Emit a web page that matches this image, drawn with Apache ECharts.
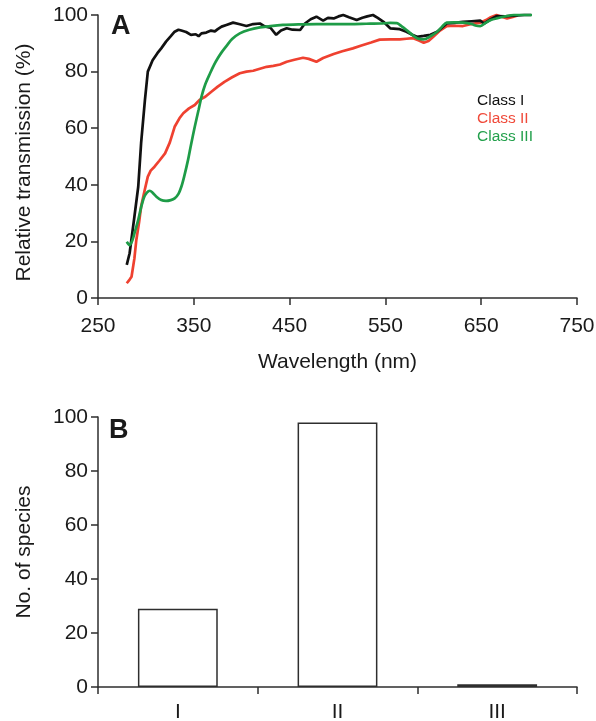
<!DOCTYPE html>
<html>
<head>
<meta charset="utf-8">
<script src="https://cdn.jsdelivr.net/npm/echarts@6/dist/echarts.min.js"></script>
<style>
html,body{margin:0;padding:0;background:#fff;}
#chart{width:596px;height:721px;}
</style>
</head>
<body>
<div id="chart"></div>
<script>
// ---------- Panel A data ----------
const classIWavelength = [280,283,288,292,295,299,302,307,312,316,321,326,330,334,337,342,347,352,355,358,363,368,372,375,379,384,391,397,405,412,419,424,430,436,441,447,453,461,466,472,478,485,490,496,501,506,512,520,526,531,537,542,548,555,565,572,578,583,590,597,604,609,614,622,631,640,649,653,660,666,675,685,695,702];
const classIValues = [11.7,15.8,28.7,39.3,54.7,70,80,84,86.5,88.2,90.6,92.5,94.1,94.8,94.5,94,93,93.2,92.5,93.5,93.8,94.5,94.2,95,95.9,96.5,97.3,96.8,96.1,96.8,97,96,95.5,93,94.5,95.3,94.8,94.7,97,98.5,99.4,98,99,98.8,99.5,100,99.2,98.2,99,99.5,100,99,97.6,95.3,95,94.1,93,92.3,92.6,93,94.1,95.5,97,97.2,97.6,97.8,98,97,98.5,99.6,99.5,99.8,100,100];

const classIIWavelength = [280,283,285,288,290,293,295,299,302,305,309,314,320,325,330,335,339,345,351,356,362,368,375,382,390,398,405,412,419,426,433,440,447,455,464,470,478,485,496,505,516,525,535,544,555,565,572,579,585,590,595,600,607,614,622,631,640,649,655,660,666,672,677,683,688];
const classIIValues = [5.2,6.5,7.5,14,20.5,27,32.3,38.5,42.9,45,46.4,48.5,51.1,55,60.5,63.5,65.3,67,68.2,70,71.1,72.8,74.7,76.4,78,79.4,80,80.3,81,81.7,82,82.5,83.5,84.2,84.9,84.5,83.5,84.8,86.2,87.2,88.2,89.2,90.3,91.3,91.4,91.4,91.6,91.8,91,90.2,90.8,92.3,94.5,96.1,96.2,96.1,96.8,97.3,98.2,99.2,100,99.3,98.8,99.3,99.8];

const classIIIWavelength = [280,283,286,289,292,295,298,301,304,307,311,316,321,326,330,334,337,340,344,347,351,355,358,362,367,371,375,379,384,390,398,408,419,430,443,460,478,495,513,530,545,555,562,567,572,578,583,590,597,604,609,614,622,631,640,645,649,655,660,666,675,684,693,703];
const classIIIValues = [19.9,18.7,20.5,24,27.6,32,35.5,37.2,37.9,37.2,35.8,34.6,34.3,34.6,35.2,36.8,39.3,43,48.8,54,60.5,66.5,71.1,75.5,79.4,82.3,84.7,86.8,89,91.5,93.5,94.8,95.6,96.1,96.5,96.7,96.8,96.8,96.8,96.9,97,97.2,97.1,96,94.7,93,91.8,91.4,92.5,94.1,95.8,97.3,97.4,97.3,96.8,96.2,96.1,97.3,98.2,98.8,99.5,100,100,100];

const seriesNames = ['Class I','Class II','Class III'];
const seriesColors = ['#111111','#ef4130','#1e9c47'];
const legendTextColors = ['#111111','#f04a3a','#23a04c'];
const xTickValues = [250,350,450,550,650,750];

// ---------- Panel B data ----------
const classCategories = ['I','II','III'];
const speciesCounts = [29,98,1];

const pair = (xs, ys) => xs.map((x, i) => [x, ys[i]]);

const FONT = 'Liberation Sans, Arial, Helvetica, sans-serif';
const AX = '#2e2e2e';
const axisLineStyle = {show:true, lineStyle:{color:AX, width:1.5}};
const axisTickStyle = {show:true, length:7, inside:false, lineStyle:{color:AX, width:1.5}};
const labelStyle = {color:'#1a1a1a', fontSize:21, fontFamily:FONT};

const chart = echarts.init(document.getElementById('chart'), null, {renderer:'canvas'});

chart.setOption({
  animation:false,
  backgroundColor:'#fff',
  grid:[
    {left:98, right:19, top:15, height:283, containLabel:false, outerBoundsMode:'none'},
    {left:98, right:19, top:417, height:270, containLabel:false, outerBoundsMode:'none'}
  ],
  legend:{
    orient:'vertical',
    left:467, top:88,
    itemWidth:0, itemHeight:0, itemGap:2,
    selectedMode:false,
    textStyle:{fontSize:15.5, fontFamily:FONT},
    data:seriesNames.map((n,i)=>({name:n, icon:'none', textStyle:{color:legendTextColors[i]}}))
  },
  xAxis:[
    {
      type:'value', gridIndex:0, min:250, max:750,
      axisLine:axisLineStyle,
      axisTick:Object.assign({customValues:xTickValues}, axisTickStyle),
      axisLabel:Object.assign({customValues:xTickValues, margin:18}, labelStyle),
      splitLine:{show:false},
      name:'Wavelength (nm)', nameLocation:'middle', nameGap:54,
      nameTextStyle:{color:'#1a1a1a', fontSize:21, fontFamily:FONT}
    },
    {
      type:'category', gridIndex:1, data:classCategories,
      axisLine:axisLineStyle,
      axisTick:axisTickStyle,
      axisLabel:Object.assign({margin:15}, labelStyle),
      splitLine:{show:false}
    }
  ],
  yAxis:[
    {
      type:'value', gridIndex:0, min:0, max:100, interval:20,
      axisLine:axisLineStyle, axisTick:axisTickStyle,
      axisLabel:Object.assign({margin:10}, labelStyle),
      splitLine:{show:false},
      name:'Relative transmission (%)', nameLocation:'middle', nameGap:63,
      nameTextStyle:{color:'#1a1a1a', fontSize:21, fontFamily:FONT, padding:[0,12,0,0]}
    },
    {
      type:'value', gridIndex:1, min:0, max:100, interval:20,
      axisLine:axisLineStyle, axisTick:axisTickStyle,
      axisLabel:Object.assign({margin:10}, labelStyle),
      splitLine:{show:false},
      name:'No. of species', nameLocation:'middle', nameGap:63,
      nameTextStyle:{color:'#1a1a1a', fontSize:21, fontFamily:FONT}
    }
  ],
  graphic:[
    {type:'text', left:111, top:13, style:{text:'A', font:'bold 27px ' + FONT, fill:'#1a1a1a'}},
    {type:'text', left:109, top:417, style:{text:'B', font:'bold 27px ' + FONT, fill:'#1a1a1a'}}
  ],
  series:[
    {name:seriesNames[0], type:'line', xAxisIndex:0, yAxisIndex:0, data:pair(classIWavelength, classIValues),
     showSymbol:false, clip:false, lineStyle:{color:seriesColors[0], width:2.7}, itemStyle:{color:seriesColors[0]}, z:3},
    {name:seriesNames[1], type:'line', xAxisIndex:0, yAxisIndex:0, data:pair(classIIWavelength, classIIValues),
     showSymbol:false, clip:false, lineStyle:{color:seriesColors[1], width:2.7}, itemStyle:{color:seriesColors[1]}, z:2},
    {name:seriesNames[2], type:'line', xAxisIndex:0, yAxisIndex:0, data:pair(classIIIWavelength, classIIIValues),
     showSymbol:false, clip:false, smooth:0.3, lineStyle:{color:seriesColors[2], width:2.7}, itemStyle:{color:seriesColors[2]}, z:4},
    {name:'Species', type:'bar', xAxisIndex:1, yAxisIndex:1, data:speciesCounts, barWidth:'50%',
     itemStyle:{color:'#ffffff', borderColor:AX, borderWidth:1.5}}
  ]
});
</script>
</body>
</html>
